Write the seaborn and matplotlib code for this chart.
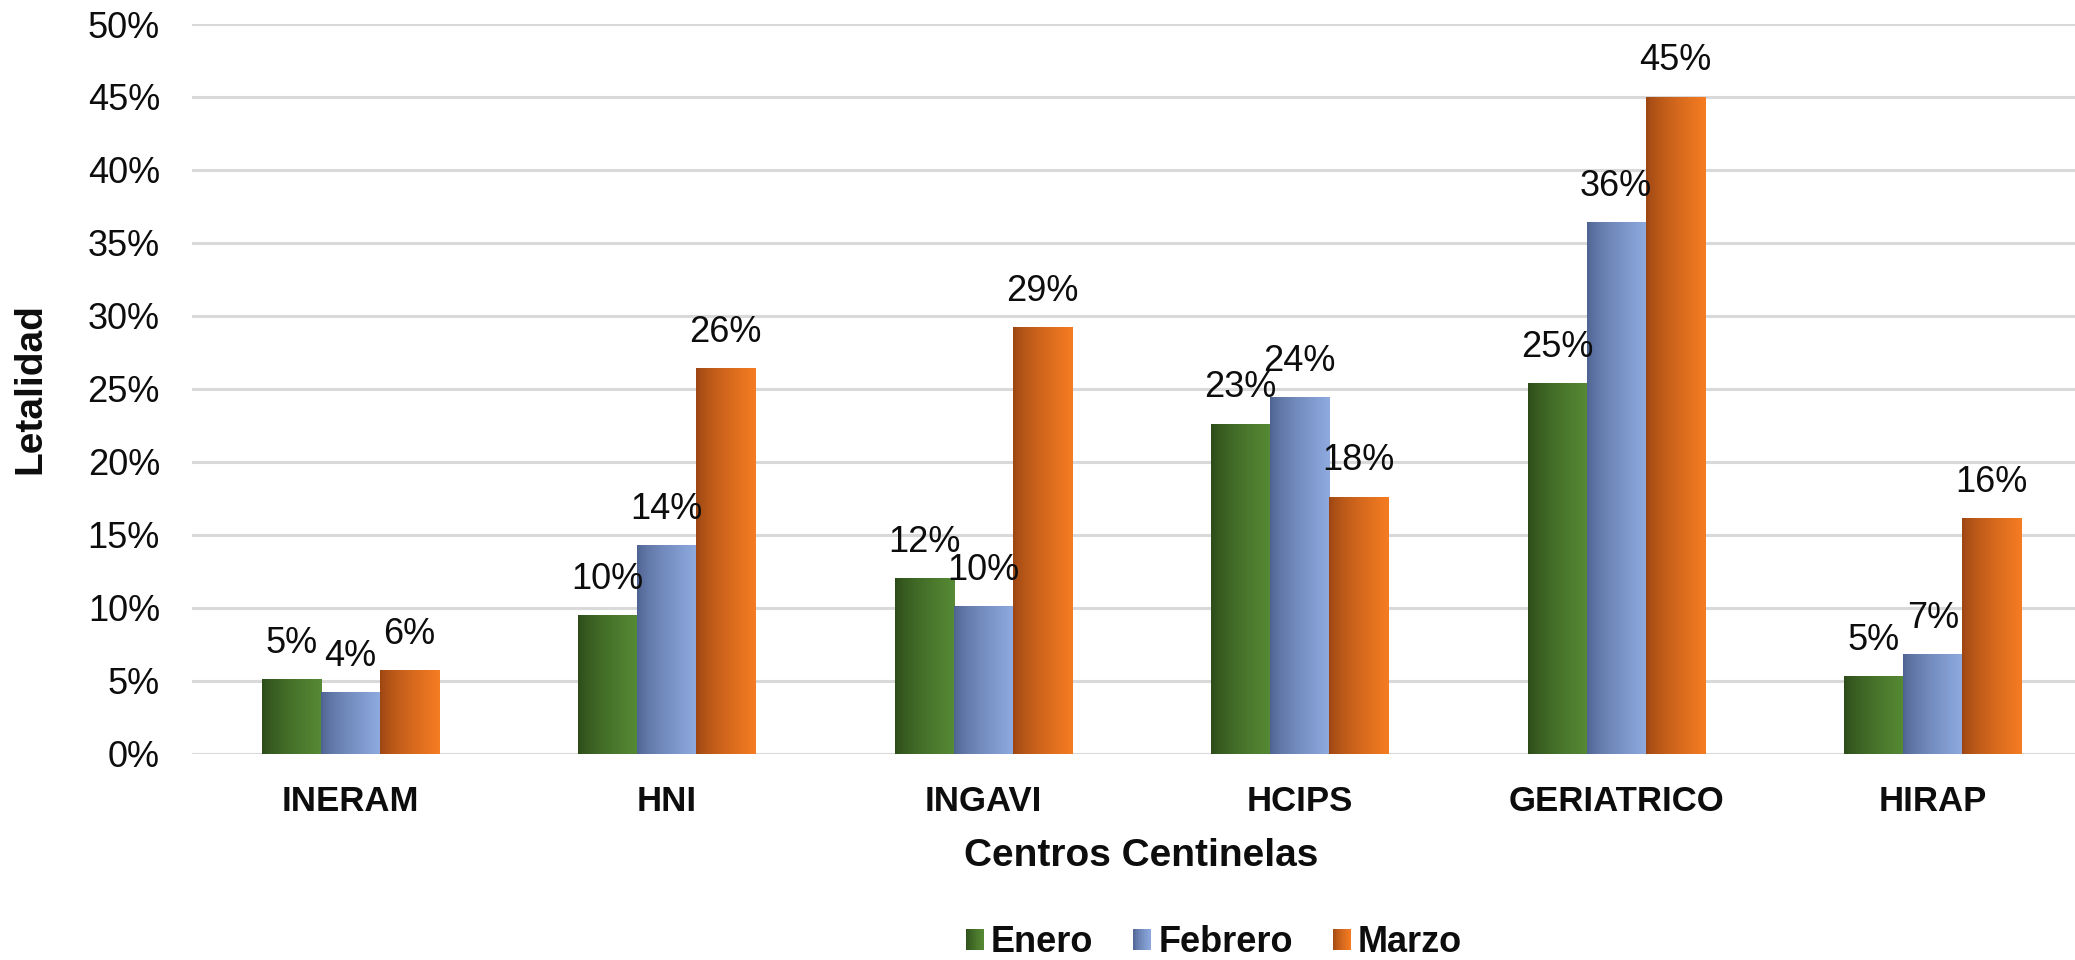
import numpy as np
import pandas as pd
import matplotlib
matplotlib.use('Agg')
import matplotlib.pyplot as plt
import seaborn as sns
from matplotlib.colors import LinearSegmentedColormap
from matplotlib.patches import Patch, Rectangle
from matplotlib.legend_handler import HandlerBase
from matplotlib.ticker import MultipleLocator, PercentFormatter

# data (letalidad %)
centros = ['INERAM', 'HNI', 'INGAVI', 'HCIPS', 'GERIATRICO', 'HIRAP']
meses = ['Enero', 'Febrero', 'Marzo']
enero = [5.1, 9.5, 12.0, 22.6, 25.4, 5.3]
febrero = [4.2, 14.3, 10.1, 24.4, 36.4, 6.8]
marzo = [5.7, 26.4, 29.2, 17.6, 45.0, 16.1]

# gradient colours per month (dark left -> light right)
grad = {
    'Enero': ('#2c4a19', '#568a34'),
    'Febrero': ('#4e6290', '#8eaadf'),
    'Marzo': ('#9a4513', '#f57c22'),
}
cmaps = {m: LinearSegmentedColormap.from_list(m, grad[m]) for m in meses}
t = np.linspace(0, 1, 256) ** 0.7


class GradHandler(HandlerBase):
    # legend square with the same left-to-right gradient as the bars
    def __init__(self, cmap, n=12):
        super().__init__()
        self.cmap = cmap
        self.n = n

    def create_artists(self, legend, orig_handle, xdescent, ydescent,
                       width, height, fontsize, trans):
        step = width / self.n
        return [Rectangle((-xdescent + i * step, -ydescent), step * 1.02, height,
                          facecolor=self.cmap(((i + 0.5) / self.n) ** 0.7),
                          edgecolor='none', transform=trans)
                for i in range(self.n)]


df = pd.DataFrame({
    'Centro': centros * 3,
    'Mes': [m for m in meses for _ in centros],
    'Letalidad': enero + febrero + marzo,
})

sns.set_style('white')
plt.rcParams['font.family'] = ['Liberation Sans', 'DejaVu Sans']
txt = '#0d0d0d'

fig = plt.figure(figsize=(20.75, 9.6), dpi=100)
ax = fig.add_axes([0.0925, 0.2146, 0.9152, 0.7604])

sns.barplot(data=df, x='Centro', y='Letalidad', hue='Mes', order=centros,
            hue_order=meses, width=0.56, gap=0, palette=[grad[m][1] for m in meses],
            errorbar=None, ax=ax, zorder=2)
if ax.get_legend() is not None:
    ax.get_legend().remove()

# horizontal gradient fill on each bar + value labels
for mes, cont in zip(meses, ax.containers):
    for bar in cont:
        x0, w, h = bar.get_x(), bar.get_width(), bar.get_height()
        ax.imshow(t[np.newaxis, :], cmap=cmaps[mes], vmin=0, vmax=1, aspect='auto',
                  extent=[x0, x0 + w, 0, h], interpolation='bilinear', zorder=2)
        bar.set_visible(False)
        ax.annotate(f'{round(h)}%', (x0 + w / 2, h), xytext=(0, 26),
                    textcoords='offset points', ha='center', va='center',
                    fontsize=26, color=txt, zorder=4)

ax.set_xlim(-0.5, len(centros) - 0.5)
ax.set_ylim(0, 50)

ax.yaxis.set_major_locator(MultipleLocator(5))
ax.yaxis.set_major_formatter(PercentFormatter(xmax=100, decimals=0))
ax.grid(axis='y', color='#d9d9d9', linewidth=2.2)
ax.set_axisbelow(True)
for s in ax.spines.values():
    s.set_visible(False)

ax.tick_params(axis='y', length=0, pad=23, labelsize=26, labelcolor=txt)
ax.tick_params(axis='x', length=0, pad=22, labelsize=25, labelcolor=txt)
for lab in ax.get_xticklabels():
    lab.set_fontweight('bold')

ax.set_xlabel('Centros Centinelas', fontsize=28, fontweight='bold', color=txt)
ax.xaxis.set_label_coords(0.5, -0.14)
ax.xaxis.label.set_va('center')
ax.set_ylabel('Letalidad', fontsize=28, fontweight='bold', color=txt)
ax.yaxis.set_label_coords(-0.085, 0.5)
ax.yaxis.label.set_va('center')

handles = [Patch(facecolor=grad[m][1], edgecolor='none', label=m) for m in meses]
fig.legend(handles=handles, loc='center', bbox_to_anchor=(0.585, 0.018),
           ncol=3, frameon=False, prop={'size': 26, 'weight': 'bold'},
           handlelength=0.5, handleheight=0.5, handletextpad=0.2,
           columnspacing=1.1, labelcolor=txt,
           handler_map={h: GradHandler(cmaps[m]) for h, m in zip(handles, meses)})

fig.savefig('out.png', dpi=100)
